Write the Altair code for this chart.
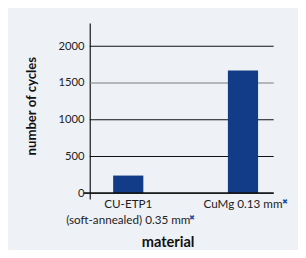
import altair as alt
import pandas as pd

materials = ["CU-ETP1 (soft-annealed) 0.35 mm", "CuMg 0.13 mm"]
cycles = [240, 1670]
label_lines = {
    "CU-ETP1 (soft-annealed) 0.35 mm": ["CU-ETP1", "(soft-annealed) 0.35 mm\u00a0\u00a0\u00a0\u00a0"],
    "CuMg 0.13 mm": ["CuMg 0.13 mm\u00a0\u00a0\u00a0"],
}
y_ticks = [0, 500, 1000, 1500, 2000]
grid_values = [500, 1000, 1500, 2000]
grid_shade = ["dark", "dark", "light", "dark"]

df = pd.DataFrame({"material": materials, "cycles": cycles})
gdf = pd.DataFrame({"v": grid_values, "shade": grid_shade})

FONT = "Lato"
BAR = "#123B88"
BG = "#EEF2F6"

label_expr = " : ".join(
    [f"datum.value == '{k}' ? {v!r}" for k, v in label_lines.items()]
) + " : datum.value"
label_expr = label_expr.replace("\u00a0", "\\u00a0")

xscale = alt.Scale(domain=materials, paddingInner=0.737, paddingOuter=0.17, align=0.6)
yscale = alt.Scale(domain=[-80, 2318], nice=False, zero=False)

gridlines = alt.Chart(gdf).mark_rule(strokeWidth=1.2).encode(
    y=alt.Y("v:Q", scale=yscale),
    color=alt.Color("shade:N", scale=alt.Scale(domain=["dark", "light"], range=["#111111", "#7a7a7a"]), legend=None),
)

bars = alt.Chart(df).mark_bar(color=BAR).encode(
    x=alt.X("material:N", scale=xscale, sort=materials,
            axis=alt.Axis(title="material", labelAngle=0, labelExpr=label_expr,
                          labelFont=FONT, labelFontSize=12, labelColor="#222",
                          labelLineHeight=16, labelPadding=0, labelBaseline="top",
                          domain=False, ticks=False, grid=False,
                          titleFont=FONT, titleFontSize=15, titleFontWeight="bold",
                          titleColor="#111", titleX=80, titleY=44,
                          titleAlign="center", titleBaseline="middle")),
    y=alt.Y("cycles:Q", scale=yscale,
            axis=alt.Axis(title="number of cycles", values=y_ticks, format="d",
                          labelFont=FONT, labelFontSize=11.5, labelColor="#222",
                          tickSize=0, labelPadding=6,
                          domain=True, domainColor="#111", domainWidth=1.2,
                          grid=False,
                          titleFont=FONT, titleFontSize=13.5, titleFontWeight="bold",
                          titleColor="#111", titleX=-60, titleY=85,
                          titleAngle=-90, titleAlign="center", titleBaseline="middle")),
    y2=alt.datum(0),
)

baseline = alt.Chart(df).mark_rule(color="#111", strokeWidth=1.2).encode(
    x=alt.value(-6), x2=alt.value(189), y=alt.Y(datum=0)
)

star1 = alt.Chart(df).transform_filter(alt.datum.material == materials[0]).mark_text(
    text="\u2716", color="#1F4FA8", fontSize=7, dx=66, dy=26).encode(
    x=alt.X("material:N", scale=xscale, sort=materials), y=alt.Y(datum=0))
star2 = alt.Chart(df).transform_filter(alt.datum.material == materials[1]).mark_text(
    text="\u2716", color="#1F4FA8", fontSize=7, dx=43.5, dy=9).encode(
    x=alt.X("material:N", scale=xscale, sort=materials), y=alt.Y(datum=0))

chart = alt.layer(gridlines, bars, baseline, star1, star2).properties(
    width=189, height=181,
    autosize=alt.AutoSizeParams(type="none"),
    padding={"left": 84, "top": 12, "right": 25, "bottom": 49},
    background=BG,
).configure_view(stroke=None)

chart.save("out.html", embed_options={"renderer": "svg", "actions": False})
